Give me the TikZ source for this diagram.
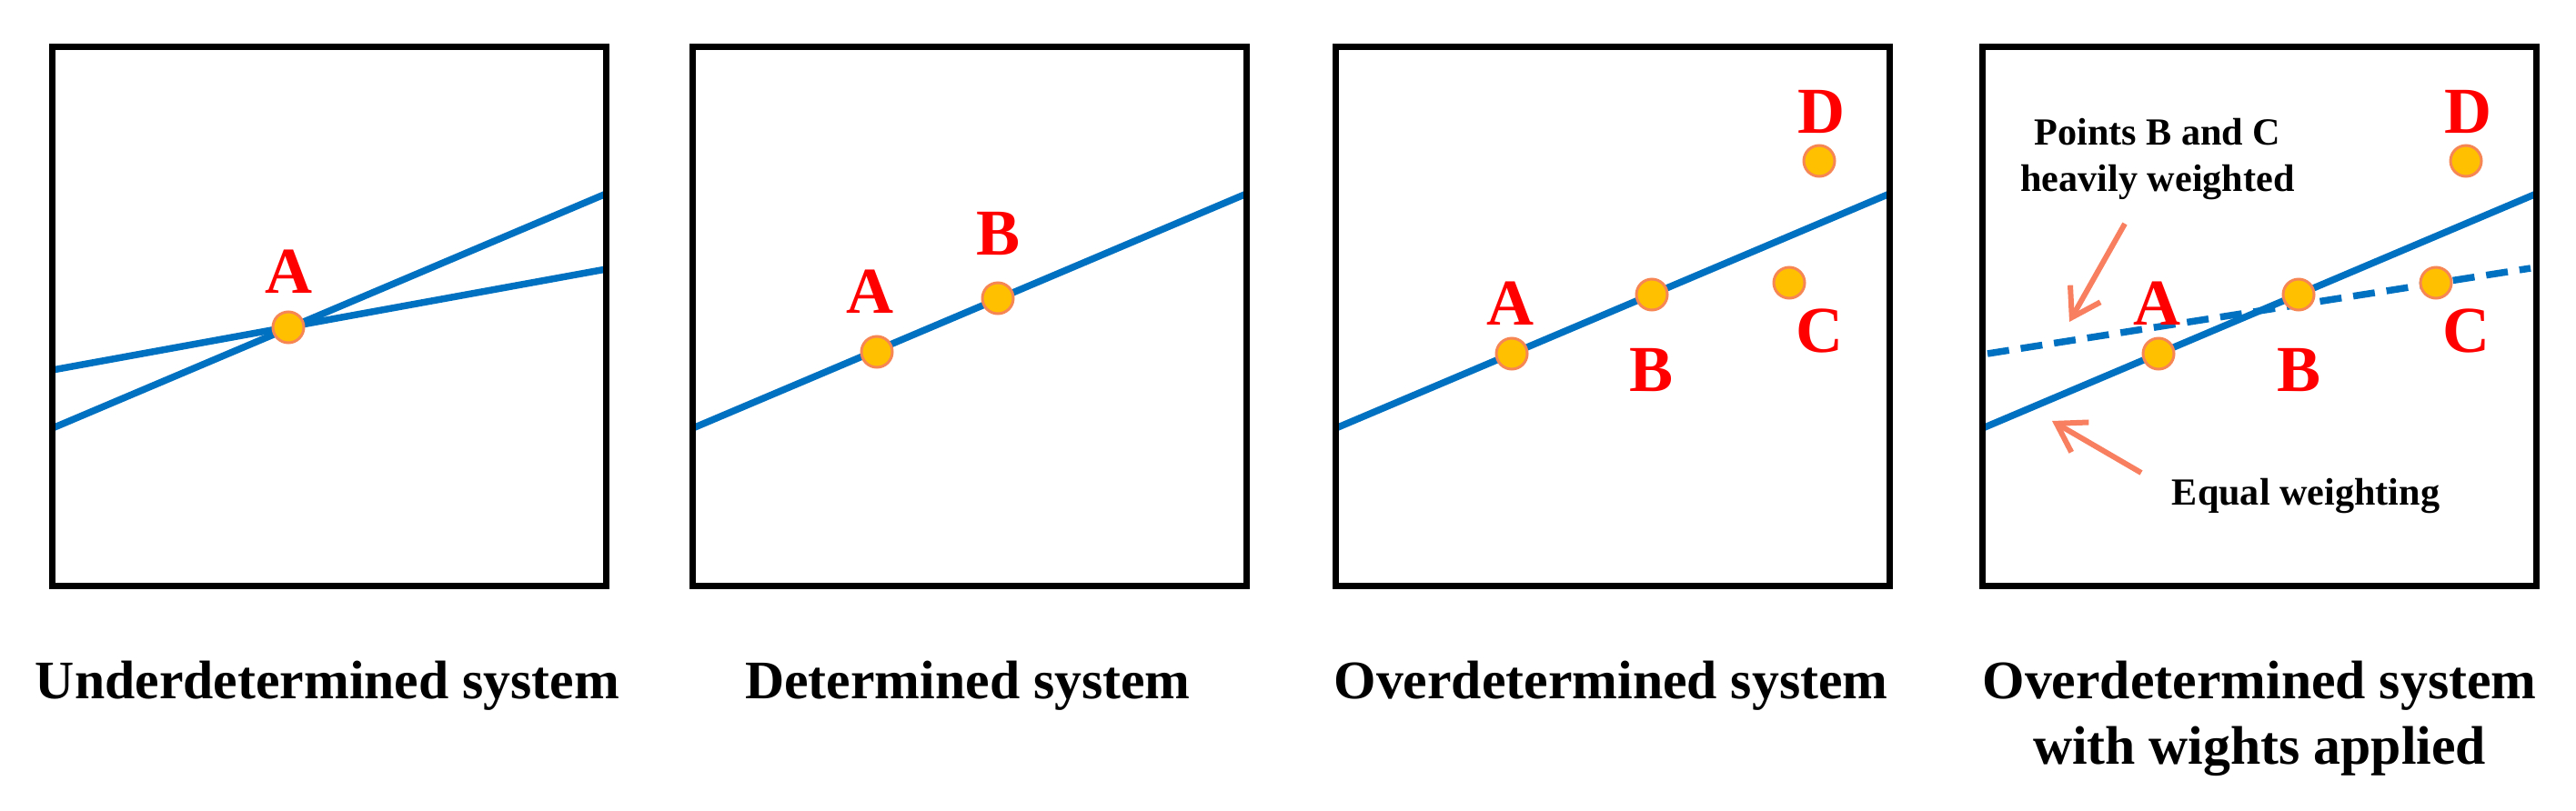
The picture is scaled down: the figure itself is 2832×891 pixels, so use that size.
\documentclass[tikz,border=0pt]{standalone}
\usepackage{fontspec}
\setmainfont{Liberation Serif}
\usetikzlibrary{arrows.meta}
\definecolor{fitblue}{RGB}{0,112,192}
\definecolor{ptfill}{RGB}{255,192,0}
\definecolor{ptedge}{RGB}{246,134,84}
\definecolor{arrcol}{RGB}{248,128,96}

\begin{document}
\begin{tikzpicture}[
            x = 0.1mm, y = -0.1mm,
            panel/.style = {draw, line width = 0.7mm},
            fitline/.style = {draw = fitblue, line width = 0.75mm},
            wline/.style = {fitline, dash pattern = on 2.4mm off 1.3mm},
            pt/.style = {circle, fill = ptfill, draw = ptedge, line width = 0.3mm, minimum size = 3.4mm, inner sep = 0},
            lbl/.style = {text = red, inner sep = 0, font = \fontsize{20.5}{24}\selectfont\bfseries},
            sysname/.style = {anchor = base, inner sep = 0, font = \fontsize{17}{20}\selectfont\bfseries},
            note/.style = {align = center, inner sep = 0, font = \fontsize{12}{14.5}\selectfont\bfseries},
            pointer/.style = {draw = arrcol, line width = 0.6mm, -{Straight Barb[length = 3mm, width = 3.8mm]}}
            ]
            \useasboundingbox (0,0) rectangle (2832,891);

            % underdetermined
            \begin{scope}[shift = {(54,0)}]
                \draw[fitline] (3.5,471) -- (612.5,213);
                \draw[fitline] (3.5,407) -- (612.5,296);
                \draw[panel] (3.5,51.5) rectangle (612.5,644.5);
                \node[pt] (a1) at (263,360) {};
                \node[lbl] (la1) at (264,299) {A};
                \node[sysname] (s1) at (306,768) {Underdetermined system};
            \end{scope}

            % determined
            \begin{scope}[shift = {(758,0)}]
                \draw[fitline] (3.5,471) -- (612.5,213);
                \draw[panel] (3.5,51.5) rectangle (612.5,644.5);
                \node[pt] (a2) at (206,387) {};
                \node[pt] (b2) at (339,328) {};
                \node[lbl] (la2) at (199,321) {A};
                \node[lbl] (lb2) at (340,257) {B};
                \node[sysname] (s2) at (306,768) {Determined system};
            \end{scope}

            % overdetermined
            \begin{scope}[shift = {(1465,0)}]
                \draw[fitline] (3.5,471) -- (612.5,213);
                \draw[panel] (3.5,51.5) rectangle (612.5,644.5);
                \node[pt] (a3) at (197,389) {};
                \node[pt] (b3) at (351,324) {};
                \node[pt] (c3) at (502,311) {};
                \node[pt] (d3) at (535,177) {};
                \node[lbl] (la3) at (195,334) {A};
                \node[lbl] (lb3) at (351,407) {B};
                \node[lbl] (lc3) at (535,364) {C};
                \node[lbl] (ld3) at (537,123) {D};
                \node[sysname] (s3) at (306,768) {Overdetermined system};
            \end{scope}

            % overdetermined, weighted
            \begin{scope}[shift = {(2176,0)}]
                \draw[fitline] (3.5,471) -- (612.5,213);
                \draw[wline] (9,389) -- (606,295);
                \draw[panel] (3.5,51.5) rectangle (612.5,644.5);
                \node[pt] (a4) at (197,389) {};
                \node[pt] (b4) at (351,324) {};
                \node[pt] (c4) at (502,311) {};
                \node[pt] (d4) at (535,177) {};
                \node[lbl] (la4) at (195,334) {A};
                \node[lbl] (lb4) at (351,407) {B};
                \node[lbl] (lc4) at (535,364) {C};
                \node[lbl] (ld4) at (537,123) {D};
                \node[note] (heavy) at (196,175) {Points B and C\\heavily weighted};
                \node[note] (equal) at (359,546) {Equal weighting};
                \coordinate (p1) at (160,246);
                \coordinate (q1) at (99,354);
                \coordinate (p2) at (178,520);
                \coordinate (q2) at (80,463);
                \draw[pointer] (p1) -- (q1);
                \draw[pointer] (p2) -- (q2);
                \node[sysname] (s4) at (308,768) {Overdetermined system};
                \node[sysname] (s4b) at (308,840) {with wights applied};
            \end{scope}
          \end{tikzpicture}
\end{document}
